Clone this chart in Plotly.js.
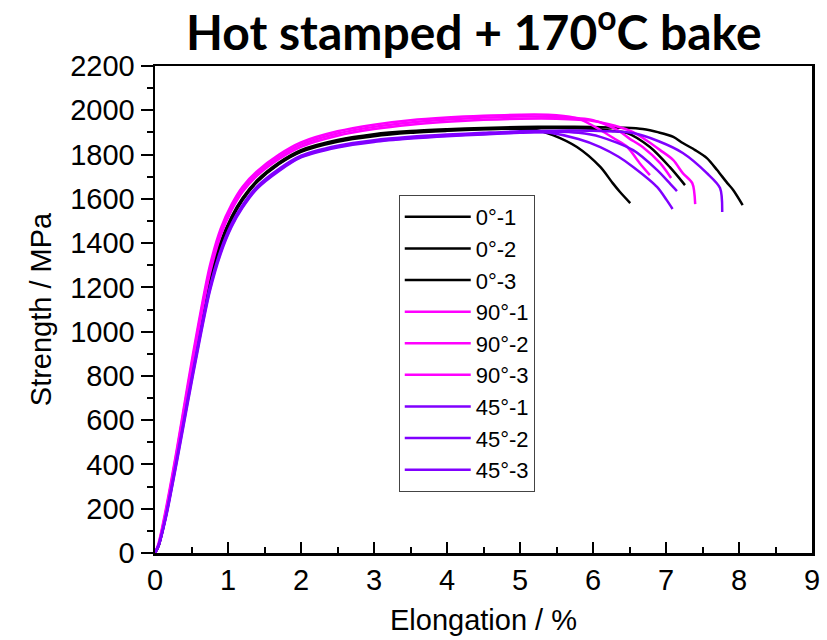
<!DOCTYPE html>
<html>
<head>
<meta charset="utf-8">
<script src="https://cdn.plot.ly/plotly-3.0.1.min.js"></script>
<style>html,body{margin:0;padding:0;background:#fff;}#chart{width:827px;height:640px;}</style>
</head>
<body>
<div id="chart"></div>
<script>
// ---- data (elongation %, strength MPa) ----
const seriesNames = ["0°-1","0°-2","0°-3","90°-1","90°-2","90°-3","45°-1","45°-2","45°-3"];

const b1x = [0,0.05,0.15,0.3,0.45,0.6,0.75,0.9,1.05,1.2,1.4,1.7,2.0,2.5,3.0,3.5,4.0,4.5,5.0,5.2,5.45,5.78,6.1,6.27,6.37,6.51];
const b1y = [0,35,175,440,720,990,1230,1400,1515,1600,1680,1760,1815,1862,1888,1902,1910,1915,1916,1912,1888,1834,1744,1671,1631,1581];

const b2x = [0,0.05,0.15,0.3,0.45,0.6,0.75,0.9,1.05,1.2,1.4,1.7,2.0,2.5,3.0,3.5,4.0,4.5,5.0,5.5,6.0,6.25,6.47,6.78,7.05,7.26];
const b2y = [0,33,170,432,710,980,1220,1392,1508,1594,1676,1757,1812,1858,1883,1898,1907,1914,1918,1920,1916,1908,1897,1834,1744,1662];

const b3x = [0,0.05,0.15,0.3,0.45,0.6,0.75,0.9,1.05,1.2,1.4,1.7,2.0,2.5,3.0,3.5,4.0,4.5,5.0,5.5,6.0,6.4,6.68,6.9,7.1,7.23,7.4,7.56,7.7,7.84,7.92,8.05];
const b3y = [0,36,178,445,726,996,1236,1405,1520,1604,1684,1764,1820,1866,1892,1906,1914,1920,1924,1926,1925,1921,1915,1900,1880,1852,1820,1784,1730,1671,1640,1572];

const m1x = [0,0.05,0.15,0.3,0.45,0.6,0.75,0.9,1.05,1.2,1.4,1.7,2.0,2.5,3.0,3.5,4.0,4.5,5.0,5.5,5.8,6.1,6.3,6.47,6.64,6.78];
const m1y = [0,45,200,470,765,1045,1295,1465,1575,1655,1725,1800,1855,1905,1935,1955,1967,1975,1980,1978,1962,1911,1870,1834,1761,1707];

const m2x = [0,0.05,0.15,0.3,0.45,0.6,0.75,0.9,1.05,1.2,1.4,1.7,2.0,2.5,3.0,3.5,4.0,4.5,5.0,5.5,6.0,6.33,6.5,6.68,6.92,7.07];
const m2y = [0,40,190,460,750,1030,1280,1450,1565,1645,1715,1790,1845,1895,1925,1945,1958,1967,1972,1970,1955,1911,1872,1834,1761,1694];

const m3x = [0,0.05,0.15,0.3,0.45,0.6,0.75,0.9,1.05,1.2,1.4,1.7,2.0,2.5,3.0,3.5,4.0,4.5,5.0,5.5,6.0,6.3,6.55,6.75,6.92,7.1,7.23,7.36,7.4];
const m3y = [0,38,185,450,735,1010,1260,1435,1550,1632,1705,1780,1835,1885,1915,1935,1948,1957,1962,1962,1952,1930,1901,1860,1820,1775,1716,1671,1576];

const p1x = [0,0.05,0.15,0.3,0.45,0.6,0.75,0.9,1.05,1.2,1.4,1.7,2.0,2.5,3.0,3.5,4.0,4.5,5.0,5.2,5.41,5.8,6.1,6.35,6.55,6.88,7.01,7.09];
const p1y = [0,35,165,420,690,950,1190,1360,1480,1565,1650,1730,1790,1835,1860,1875,1885,1893,1900,1902,1898,1870,1834,1790,1744,1653,1594,1554];

const p2x = [0,0.05,0.15,0.3,0.45,0.6,0.75,0.9,1.05,1.2,1.4,1.7,2.0,2.5,3.0,3.5,4.0,4.5,5.0,5.5,5.8,6.1,6.55,6.88,7.05,7.15];
const p2y = [0,33,160,412,680,940,1180,1352,1474,1560,1646,1726,1787,1832,1857,1872,1883,1891,1898,1903,1898,1880,1820,1730,1671,1635];

const p3x = [0,0.05,0.15,0.3,0.45,0.6,0.75,0.9,1.05,1.2,1.4,1.7,2.0,2.5,3.0,3.5,4.0,4.5,5.0,5.5,6.0,6.55,6.9,7.23,7.56,7.74,7.77];
const p3y = [0,36,170,428,700,960,1200,1368,1488,1572,1656,1736,1795,1840,1865,1880,1890,1898,1905,1908,1907,1897,1860,1807,1716,1649,1540];

const xTickVals = [0,1,2,3,4,5,6,7,8,9];
const yTickVals = [0,200,400,600,800,1000,1200,1400,1600,1800,2000,2200];

// ---- styling ----
const BLACK = "#000000", MAGENTA = "#FF00FF", VIOLET = "#8000FF";
const xs = [b1x,b2x,b3x,m1x,m2x,m3x,p1x,p2x,p3x];
const ys = [b1y,b2y,b3y,m1y,m2y,m3y,p1y,p2y,p3y];
const colors = [BLACK,BLACK,BLACK,MAGENTA,MAGENTA,MAGENTA,VIOLET,VIOLET,VIOLET];

const traces = seriesNames.map((n,i)=>({
  x: xs[i], y: ys[i], name: n, type: "scatter", mode: "lines",
  legendgroup: "g"+i,
  line: {color: colors[i], width: 2.5, shape: "spline", smoothing: 0.8}
}));

const FONT = "Liberation Sans, Arial, sans-serif";
const layout = {
  width: 827, height: 640,
  margin: {l:155, r:15, t:66, b:87},
  paper_bgcolor: "#fff", plot_bgcolor: "#fff",
  showlegend: true,
  title: {text: "<b>Hot stamped + 170<sup>o</sup>C bake</b>", font: {family: "Lato, sans-serif", size: 48, color: "#000"},
          x: 0.573, xref: "container", xanchor: "center", y: 0.948, yref: "container", yanchor: "middle"},
  xaxis: {
    range: [0,9], tickvals: xTickVals, ticktext: xTickVals.map(String),
    showgrid: false, zeroline: false, showline: true, linecolor: "#000", linewidth: 2.5, mirror: true,
    ticks: "inside", ticklen: 11, tickwidth: 2, tickcolor: "#000",
    minor: {ticks: "inside", ticklen: 6, tickwidth: 2, dtick: 0.5, tickcolor: "#000", showgrid: false},
    tickfont: {family: FONT, size: 29, color: "#000"},
    title: {text: "Elongation / %", font: {family: FONT, size: 29, color: "#000"}, standoff: 15}
  },
  yaxis: {
    range: [0,2200], tickvals: yTickVals, ticktext: yTickVals.map(String),
    showgrid: false, zeroline: false, showline: true, linecolor: "#000", linewidth: 2.5, mirror: true,
    ticks: "outside", ticklen: 12, tickwidth: 2, tickcolor: "#000",
    minor: {ticks: "outside", ticklen: 6, tickwidth: 2, dtick: 100, tickcolor: "#000", showgrid: false},
    tickfont: {family: FONT, size: 29, color: "#000"},
    title: {text: "Strength / MPa", font: {family: FONT, size: 29, color: "#000"}, standoff: 10}
  },
  legend: {
    x: 0.371, y: 0.735, xanchor: "left", yanchor: "top",
    bgcolor: "#fff", bordercolor: "#444", borderwidth: 1,
    font: {family: FONT, size: 22, color: "#000"},
    itemwidth: 66,
    tracegroupgap: 0, traceorder: "normal"
  }
};

Plotly.newPlot("chart", traces, layout, {staticPlot: true, displayModeBar: false});
</script>
</body>
</html>
